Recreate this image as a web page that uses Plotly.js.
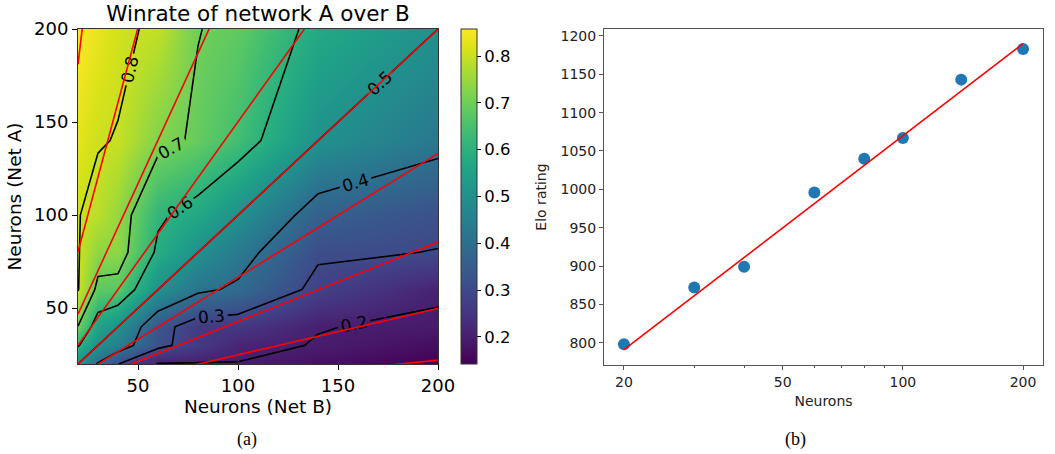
<!DOCTYPE html>
<html>
<head>
<meta charset="utf-8">
<script src="https://cdn.plot.ly/plotly-3.0.1.min.js"></script>
<style>
html, body { margin: 0; padding: 0; background: #ffffff; }
#chart { width: 1055px; height: 454px; }
</style>
</head>
<body>
<div id="chart"></div>
<script>
// ---------------- data ----------------
// Network sizes (neurons) used for both nets and for the Elo plot
const neurons = [20, 30, 40, 60, 80, 100, 140, 200];

// Panel (b): Elo rating per network size, and the fitted line
const eloRating = [798, 872, 899, 996, 1040, 1067, 1143, 1183];
const fitNeurons = [20, 200];
const fitElo = [791, 1190];

// Panel (a): winrate of net A (rows, y) over net B (columns, x)
const winA20  = [0.500, 0.392, 0.302, 0.196, 0.195, 0.198, 0.170, 0.142];
const winA30  = [0.608, 0.500, 0.450, 0.320, 0.263, 0.215, 0.197, 0.165];
const winA40  = [0.698, 0.550, 0.500, 0.328, 0.262, 0.256, 0.202, 0.191];
const winA60  = [0.804, 0.680, 0.672, 0.500, 0.415, 0.388, 0.278, 0.208];
const winA80  = [0.805, 0.737, 0.738, 0.585, 0.500, 0.432, 0.311, 0.298];
const winA100 = [0.802, 0.785, 0.744, 0.612, 0.568, 0.500, 0.360, 0.317];
const winA140 = [0.830, 0.803, 0.798, 0.722, 0.689, 0.640, 0.500, 0.426];
const winA200 = [0.858, 0.835, 0.809, 0.792, 0.702, 0.683, 0.574, 0.500];
const winrate = [winA20, winA30, winA40, winA60, winA80, winA100, winA140, winA200];

// contour levels of the measured winrate and of the Elo-model (red) lines
const contourStart = 0.2, contourEnd = 0.8, contourStep = 0.1;
const modelLevels = [0.1, 0.2, 0.3, 0.4, 0.5, 0.6, 0.7, 0.8, 0.9];
const colorbarTicks = [0.2, 0.3, 0.4, 0.5, 0.6, 0.7, 0.8];
const xTicksA = [50, 100, 150, 200];
const yTicksA = [50, 100, 150, 200];
const xTicksB = [20, 50, 100, 200];
const xMinorB = [30, 40, 60, 70, 80, 90];
const yTicksB = [800, 850, 900, 950, 1000, 1050, 1100, 1150, 1200];

// ---------------- figure ----------------
const W = 1055, H = 454;
const FONT = 'DejaVu Sans, Verdana, sans-serif';
const px2x = p => p / W;
const px2y = p => 1 - p / H;

// Elo slope per decade from the fitted line -> model contour lines in (a)
const eloPerDecade = (fitElo[1] - fitElo[0]) / (Math.log10(fitNeurons[1]) - Math.log10(fitNeurons[0]));
const nMin = neurons[0], nMax = neurons[neurons.length - 1];
const redLines = modelLevels.map(p => {
  const ratio = Math.pow(p / (1 - p), 400 / eloPerDecade);
  return {
    type: 'scatter', mode: 'lines', xaxis: 'x', yaxis: 'y',
    x: [nMin, nMax], y: [nMin * ratio, nMax * ratio],
    line: { color: '#ff0000', width: 1.6 },
    hoverinfo: 'skip', showlegend: false
  };
});

const heat = {
  type: 'heatmap', xaxis: 'x', yaxis: 'y',
  x: neurons, y: neurons, z: winrate,
  colorscale: 'Viridis', zsmooth: 'best',
  colorbar: {
    x: px2x(461), xanchor: 'left', xref: 'paper', xpad: 0,
    y: px2y(29), yanchor: 'top', yref: 'paper', ypad: 0,
    len: (364 - 29) / H, lenmode: 'fraction',
    thickness: 16, thicknessmode: 'pixels',
    outlinewidth: 1, outlinecolor: '#333333',
    ticks: 'outside', ticklen: 4, tickcolor: '#000000',
    tickvals: colorbarTicks, tickformat: '.1f',
    tickfont: { family: FONT, size: 16.5, color: '#000000' }
  },
  hoverinfo: 'skip', showlegend: false
};

const contour = {
  type: 'contour', xaxis: 'x', yaxis: 'y',
  x: neurons, y: neurons, z: winrate,
  showscale: false,
  contours: {
    coloring: 'none', start: contourStart, end: contourEnd, size: contourStep,
    showlabels: true, labelformat: '.1f',
    labelfont: { family: FONT, size: 17, color: '#000000' }
  },
  line: { color: '#000000', width: 1.6, smoothing: 0 },
  hoverinfo: 'skip', showlegend: false
};

const eloPoints = {
  type: 'scatter', mode: 'markers', xaxis: 'x2', yaxis: 'y2',
  x: neurons, y: eloRating,
  marker: { color: '#1f77b4', size: 12 },
  showlegend: false
};
const eloFit = {
  type: 'scatter', mode: 'lines', xaxis: 'x2', yaxis: 'y2',
  x: fitNeurons, y: fitElo,
  line: { color: '#ff0000', width: 1.6 },
  showlegend: false
};

const axisA = {
  showgrid: false, zeroline: false, showline: true, mirror: true,
  linecolor: '#333333', linewidth: 1,
  ticks: 'outside', ticklen: 5, tickwidth: 1, tickcolor: '#000000',
  tickfont: { family: FONT, size: 18, color: '#000000' }
};
const axisB = {
  showgrid: false, zeroline: false, showline: true, mirror: true,
  linecolor: '#555555', linewidth: 1,
  ticks: 'outside', ticklen: 4, tickwidth: 1, tickcolor: '#555555',
  tickfont: { family: FONT, size: 14, color: '#222222' }
};

const layout = {
  width: W, height: H,
  margin: { l: 0, r: 0, t: 0, b: 0 },
  paper_bgcolor: '#ffffff', plot_bgcolor: '#ffffff',
  font: { family: FONT, color: '#000000' },
  showlegend: false,
  title: {
    text: 'Winrate of network A over B',
    font: { family: FONT, size: 21.5, color: '#000000' },
    x: px2x(258), xanchor: 'center', xref: 'paper',
    y: px2y(13), yanchor: 'middle', yref: 'container'
  },
  xaxis: Object.assign({}, axisA, {
    domain: [px2x(78), px2x(438)], range: [nMin, nMax],
    tickvals: xTicksA, anchor: 'y',
    title: { text: 'Neurons (Net B)', font: { family: FONT, size: 18.5, color: '#000000' }, standoff: 1 }
  }),
  yaxis: Object.assign({}, axisA, {
    domain: [px2y(364), px2y(29)], range: [nMin, nMax],
    tickvals: yTicksA, anchor: 'x',
    title: { text: 'Neurons (Net A)', font: { family: FONT, size: 18.5, color: '#000000' }, standoff: 7 }
  }),
  xaxis2: Object.assign({}, axisB, {
    domain: [px2x(604), px2x(1043)], type: 'log',
    range: [Math.log10(20) - 0.05, Math.log10(200) + 0.05],
    tickvals: xTicksB, ticktext: xTicksB.map(String), anchor: 'y2',
    minor: { tickvals: xMinorB, ticks: 'outside', ticklen: 2, tickcolor: '#555555', showgrid: false },
    title: { text: 'Neurons', font: { family: FONT, size: 14, color: '#222222' }, standoff: 7 }
  }),
  yaxis2: Object.assign({}, axisB, {
    domain: [px2y(365), px2y(29)], range: [771, 1209],
    tickvals: yTicksB, anchor: 'x2',
    title: { text: 'Elo rating', font: { family: FONT, size: 14, color: '#222222' }, standoff: 10 }
  }),
  annotations: [
    { text: '(a)', xref: 'paper', yref: 'paper', x: px2x(247), y: px2y(439),
      xanchor: 'center', yanchor: 'middle', showarrow: false,
      font: { family: 'Liberation Serif, Times New Roman, serif', size: 18, color: '#000000' } },
    { text: '(b)', xref: 'paper', yref: 'paper', x: px2x(795), y: px2y(439),
      xanchor: 'center', yanchor: 'middle', showarrow: false,
      font: { family: 'Liberation Serif, Times New Roman, serif', size: 18, color: '#000000' } }
  ]
};

Plotly.newPlot('chart', [heat, contour].concat(redLines, [eloPoints, eloFit]), layout,
  { displayModeBar: false, staticPlot: true });
</script>
</body>
</html>
